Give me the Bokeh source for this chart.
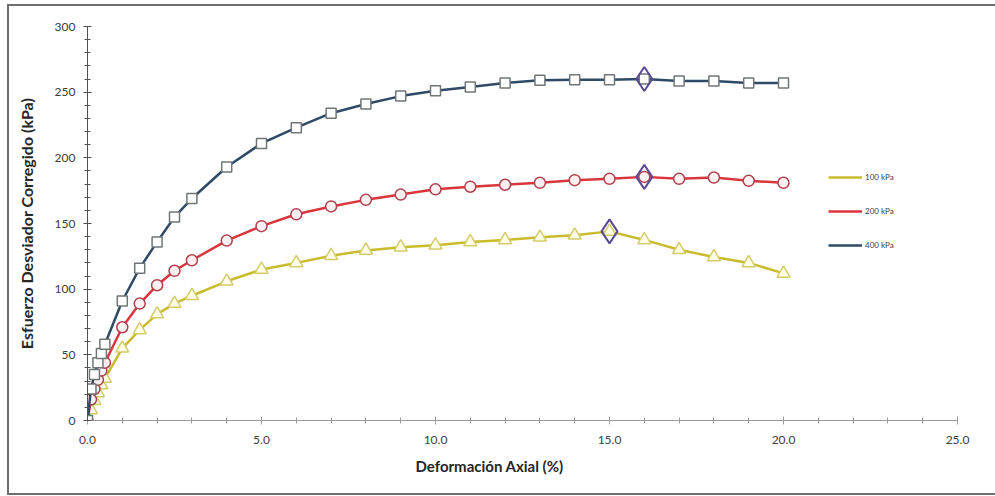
from bokeh.plotting import figure
from bokeh.models import (Legend, LegendItem, Title, NumeralTickFormatter,
                          FixedTicker, ColumnDataSource, Range1d)
from bokeh.embed import file_html
from bokeh.resources import INLINE

# ---- data ----
strain = [0, 0.1, 0.2, 0.3, 0.4, 0.5, 1, 1.5, 2, 2.5, 3, 4, 5, 6, 7, 8, 9, 10,
          11, 12, 13, 14, 15, 16, 17, 18, 19, 20]
s100 = [0, 8, 15, 21, 27, 32, 55, 69, 81, 89, 95, 106, 115, 120, 125.5, 129.5,
        132, 133.5, 136, 137.5, 139.5, 141, 144, 137.5, 130, 124.5, 120, 112]
s200 = [0, 16, 24, 31, 38, 44, 71, 89, 103, 114, 122, 137, 148, 157, 163, 168,
        172, 176, 178, 179.5, 181, 183, 184, 185.5, 184, 185, 182.5, 181]
s400 = [0, 24, 35, 44, 51, 58, 91, 116, 136, 155, 169, 193, 211, 223, 234, 241,
        247, 251, 254, 257, 259, 259.5, 259.5, 260, 258.5, 258.5, 257, 257]
peak_x = [15, 16, 16]
peak_y = [144, 185.5, 260]
series_names = ["100 kPa", "200 kPa", "400 kPa"]
x_ticks = [0, 5, 10, 15, 20, 25]
y_ticks = [0, 50, 100, 150, 200, 250, 300]

FONT = "Lato"

p = figure(width=988, height=491, output_backend="svg", toolbar_location=None,
           x_range=Range1d(0, 25), y_range=Range1d(0, 300),
           min_border_left=78, min_border_right=40, min_border_top=20,
           min_border_bottom=77)
p.styles = {"margin-left": "7px", "margin-top": "4px",
            "border-top": "2px solid #6e6e6e", "border-left": "2px solid #6e6e6e",
            "border-bottom": "2px solid #6e6e6e"}
p.outline_line_color = None
p.xgrid.visible = False
p.ygrid.visible = False

# axes
p.xaxis.ticker = FixedTicker(ticks=x_ticks, minor_ticks=list(range(0, 26)))
p.yaxis.ticker = FixedTicker(ticks=y_ticks, minor_ticks=list(range(0, 301, 10)))
p.xaxis.formatter = NumeralTickFormatter(format="0.0")
for ax in (p.xaxis, p.yaxis):
    ax.major_label_text_font = FONT
    ax.major_label_text_font_size = "12px"
    ax.major_label_text_color = "#404040"
    ax.major_tick_in = 4
    ax.major_tick_out = 4
    ax.minor_tick_in = 3
    ax.minor_tick_out = 3
p.xaxis.axis_line_color = "#9a9a9a"
p.xaxis.major_tick_line_color = "#9a9a9a"
p.xaxis.minor_tick_line_color = "#9a9a9a"
p.yaxis.axis_line_color = "#505050"
p.yaxis.major_tick_line_color = "#505050"
p.yaxis.minor_tick_line_color = "#505050"
p.xaxis.major_label_standoff = 11
p.yaxis.major_label_standoff = 8

p.yaxis.axis_label = "Esfuerzo Desviador Corregido (kPa)"
p.yaxis.axis_label_text_font = FONT
p.yaxis.axis_label_text_font_style = "bold"
p.yaxis.axis_label_text_font_size = "16px"
p.yaxis.axis_label_text_color = "#262626"
p.yaxis.axis_label_standoff = 16

xlab = Title(text="Deformación Axial (%)", align="left", offset=328,
             text_font=FONT, text_font_style="bold", text_font_size="15px",
             text_color="#262626", standoff=17)
p.add_layout(xlab, "below")

styles = [
    dict(y=s100, line="#c9bb2c", marker="triangle", size=13,
         mline="#d4cc6a", mfill="#fffde6"),
    dict(y=s200, line="#d8363c", marker="circle", size=11,
         mline="#b0404e", mfill="#fff1f1"),
    dict(y=s400, line="#2f4a66", marker="square", size=10,
         mline="#707576", mfill="#ffffff"),
]

items = []
for name, st in zip(series_names, styles):
    src = ColumnDataSource(dict(x=strain, y=st["y"]))
    ln = p.line("x", "y", source=src, line_color=st["line"], line_width=2.5)
    p.scatter("x", "y", source=src, marker=st["marker"], size=st["size"],
              line_color=st["mline"], fill_color=st["mfill"], line_width=1.5)
    dummy = p.scatter(x=[], y=[], marker="circle", size=6,
                      line_color=st["mline"], fill_color=st["mfill"], line_width=1.3)
    items.append(LegendItem(label=name, renderers=[ln, dummy]))

p.scatter(peak_x, peak_y, marker="diamond", size=24, fill_color=None,
          line_color="#5a4a96", line_width=2)

legend = Legend(items=items, location=(741, 165), orientation="vertical",
                glyph_width=34, glyph_height=20, spacing=14, padding=0,
                margin=0, label_text_font=FONT, label_text_font_size="8px",
                label_text_color="#404040", border_line_color=None,
                background_fill_alpha=0, label_standoff=3)
p.add_layout(legend)

open("out.html", "w").write(file_html(p, INLINE))
